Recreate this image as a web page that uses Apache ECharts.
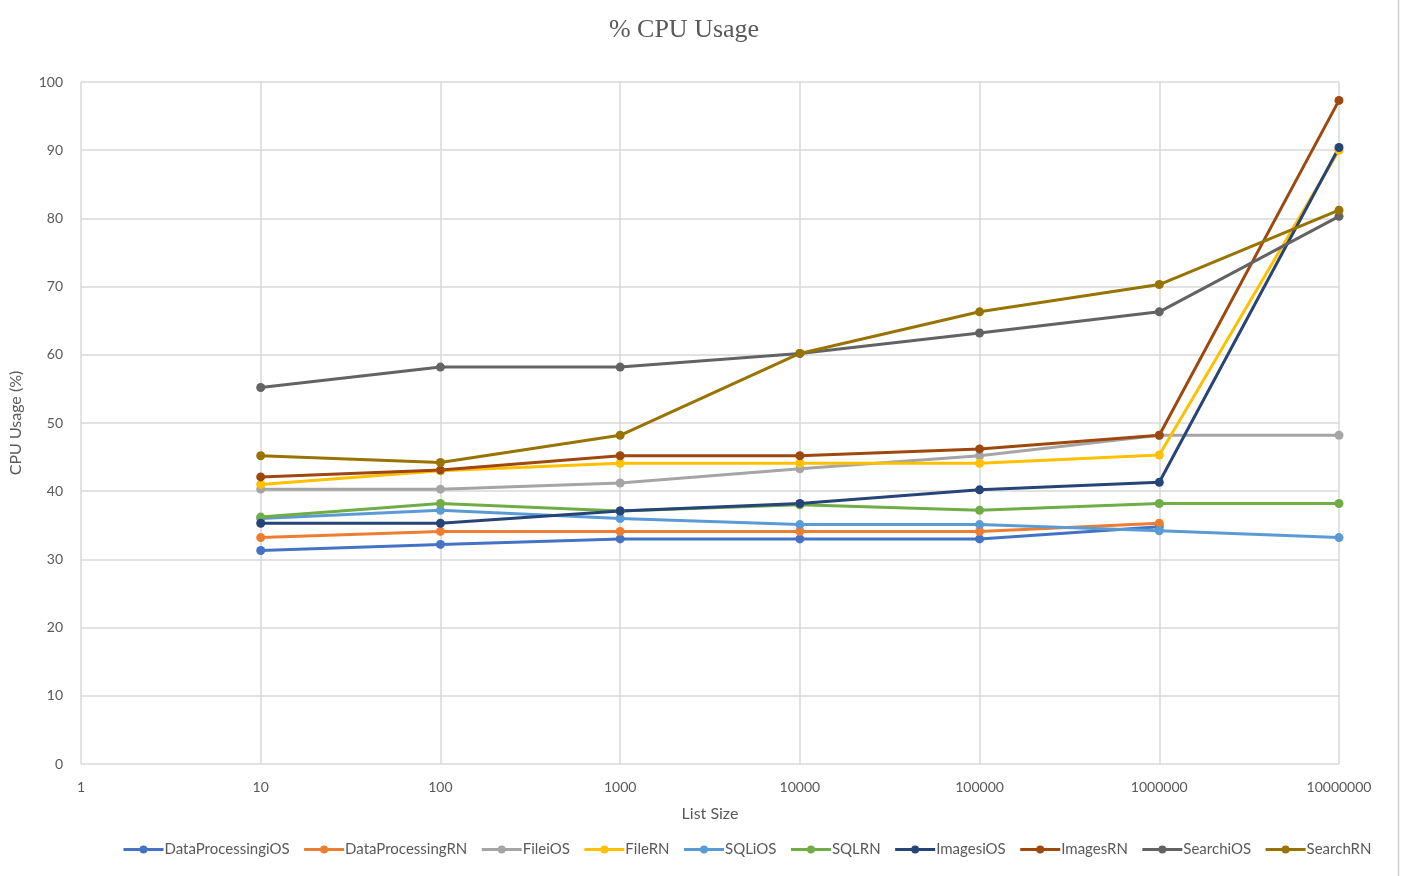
<!DOCTYPE html>
<html>
<head>
<meta charset="utf-8">
<script src="https://cdn.jsdelivr.net/npm/echarts@6/dist/echarts.min.js"></script>
<style>
  html, body { margin: 0; padding: 0; background: #fff; }
  #chart { width: 1406px; height: 876px; }
</style>
</head>
<body>
<div id="chart"></div>
<script>
// List sizes (log scale) and CPU usage per test
const listSizes = [10, 100, 1000, 10000, 100000, 1000000, 10000000];
const dataProcessingiOS = [31.3, 32.2, 33, 33, 33, 34.8];
const dataProcessingRN  = [33.2, 34.1, 34.1, 34.1, 34.1, 35.3];
const fileiOS   = [40.3, 40.3, 41.2, 43.3, 45.2, 48.2, 48.2];
const fileRN    = [41, 43, 44.1, 44.1, 44.1, 45.3, 90];
const sqliOS    = [36, 37.2, 36, 35.1, 35.1, 34.2, 33.2];
const sqlRN     = [36.2, 38.2, 37.1, 38, 37.2, 38.2, 38.2];
const imagesiOS = [35.3, 35.3, 37.1, 38.2, 40.2, 41.3, 90.4];
const imagesRN  = [42.1, 43.1, 45.2, 45.2, 46.2, 48.2, 97.3];
const searchiOS = [55.2, 58.2, 58.2, 60.2, 63.2, 66.3, 80.3];
const searchRN  = [45.2, 44.2, 48.2, 60.2, 66.3, 70.3, 81.2];

const seriesNames = ['DataProcessingiOS', 'DataProcessingRN', 'FileiOS', 'FileRN', 'SQLiOS',
                     'SQLRN', 'ImagesiOS', 'ImagesRN', 'SearchiOS', 'SearchRN'];
const seriesValues = [dataProcessingiOS, dataProcessingRN, fileiOS, fileRN, sqliOS,
                      sqlRN, imagesiOS, imagesRN, searchiOS, searchRN];
const colors = ['#4472C4', '#ED7D31', '#A5A5A5', '#FFC000', '#5B9BD5',
                '#70AD47', '#264478', '#9E480E', '#636363', '#997300'];

const textColor = '#595959';
const font = 'Lato, "Open Sans", sans-serif';

const chart = echarts.init(document.getElementById('chart'));
chart.setOption({
  animation: false,
  color: colors,
  title: {
    text: '% CPU Usage',
    left: 679, top: 12,
    textAlign: 'center',
    textStyle: { fontFamily: '"Liberation Serif", serif', fontSize: 26, fontWeight: 'normal', color: textColor }
  },
  grid: { left: 81, right: 67, top: 82, bottom: 112 },
  xAxis: {
    type: 'log', logBase: 10, min: 1, max: 10000000,
    name: 'List Size', nameLocation: 'middle', nameGap: 42,
    nameTextStyle: { fontFamily: font, fontSize: 16, color: textColor },
    axisLine: { show: false },
    axisTick: { show: false },
    splitLine: { show: true, lineStyle: { color: '#d9d9d9', width: 1.5 } },
    axisLabel: {
      color: textColor, fontFamily: font, fontSize: 14, margin: 16,
      formatter: v => String(Math.round(v))
    }
  },
  yAxis: {
    type: 'value', min: 0, max: 100, interval: 10,
    name: 'CPU Usage (%)', nameLocation: 'middle', nameGap: 57,
    nameTextStyle: { fontFamily: font, fontSize: 16, color: textColor },
    axisLine: { show: false },
    axisTick: { show: false },
    splitLine: { lineStyle: { color: '#d9d9d9', width: 1.5 } },
    axisLabel: { color: textColor, fontFamily: font, fontSize: 14, margin: 18 }
  },
  legend: {
    bottom: 14, left: 117,
    itemWidth: 40, itemHeight: 10, itemGap: 13,
    lineStyle: { width: 3 },
    textStyle: { fontFamily: font, fontSize: 15, color: textColor, padding: [0, 0, 0, -4] },
    data: seriesNames
  },
  series: seriesNames.map((name, i) => ({
    name,
    type: 'line',
    data: seriesValues[i].map((v, j) => [listSizes[j], v]),
    symbol: 'circle',
    symbolSize: 9,
    lineStyle: { width: 3 },
    itemStyle: { color: colors[i] }
  })),
  graphic: [{
    type: 'line', silent: true,
    shape: { x1: 1398.5, y1: 0, x2: 1398.5, y2: 876 },
    style: { stroke: '#d0d0d0', lineWidth: 1.5 }
  }]
});
</script>
</body>
</html>
